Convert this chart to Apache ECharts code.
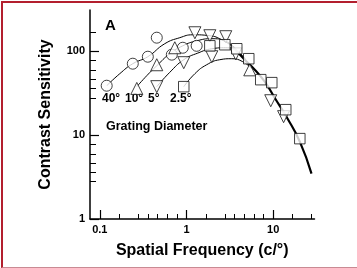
<!DOCTYPE html>
<html>
<head>
<meta charset="utf-8">
<script src="https://cdn.jsdelivr.net/npm/echarts@6/dist/echarts.min.js"></script>
<style>
  html, body { margin: 0; padding: 0; background: #fff; }
  #frame { position: absolute; left: 0; top: 0; width: 357px; height: 268px; overflow: hidden; }
  #edge { position: absolute; left: 1px; top: 1px; width: 380px; height: 264px;
    border-top: 2px solid #b31f2e; border-left: 2px solid #b31f2e; border-bottom: 1px solid #c98a93; }
  #chart { position: absolute; left: 0; top: 0; width: 357px; height: 268px; }
</style>
</head>
<body>
<div id="frame">
  <div id="edge"></div>
  <div id="chart"></div>
</div>
<script>
// measured points, [spatial frequency c/deg, contrast sensitivity]
const circle40 = [[0.120, 38.8], [0.240, 71], [0.358, 86], [0.454, 145], [0.677, 91], [0.906, 110], [1.31, 116]];
const triUp10 = [[0.267, 36], [0.454, 69], [0.733, 110], [5.37, 60]];
const triDown5 = [[0.454, 37.8], [0.93, 73], [1.25, 166], [1.86, 153], [2.84, 149], [1.96, 86], [3.70, 93], [9.38, 25.7], [13.2, 16.6]];
const square25 = [[0.93, 37.8], [1.86, 116], [2.77, 119.5], [3.80, 107], [5.23, 81.4], [7.19, 45.8], [9.64, 42.2], [13.97, 20.1], [20.3, 9.08]];

// fitted curves
const fit40 = [[0.120, 38.8], [0.170, 54], [0.240, 71], [0.358, 86], [0.562, 123], [0.837, 145], [1.18, 157], [1.86, 153], [2.55, 137], [3.42, 113]];
const fit10 = [[0.267, 37.8], [0.348, 51.1], [0.454, 67.1], [0.641, 93.4], [0.906, 116], [1.31, 133], [1.96, 141], [2.77, 133], [3.91, 98.6]];
const fit5 = [[0.454, 37.8], [0.641, 56], [0.93, 79.2], [1.35, 95], [1.96, 107], [2.84, 110], [3.91, 98.6], [4.83, 79.2]];
const fit25 = [[0.93, 37.8], [1.25, 54], [1.71, 69], [2.42, 79.2], [3.33, 81.4], [4.46, 75], [5.66, 61.9]];
const fitHigh = [[3.42, 113], [4.70, 79.2], [6.13, 60.2], [8.0, 43.3], [10.4, 27.9], [14.4, 16.2], [20.3, 8.37], [27.7, 3.48]];

const xMin = 0.077, xMax = 30;
const yMin = 1, yMax = 310;
const sizeLabels = ['40°', '10°', '5°', '2.5°'];

// minor tick spots as drawn in the figure (log10 units)
const xMinor = [-1, 0].reduce((a, d) => a.concat([2, 4, 5, 6, 7, 8].map(k => d + k / 9)), []).concat([1 + 2 / 9, 1 + 4 / 9]);
const yMinor = [0, 1].reduce((a, d) => a.concat([1, 2, 3, 4, 5].map(k => d + 1 - k / 9)), []).concat([2 + 2 / 9]);

const font = '"Liberation Sans", Arial, Helvetica, sans-serif';
const chart = echarts.init(document.getElementById('chart'), null, { renderer: 'canvas' });

const lineSeries = (data, w) => ({
  type: 'line', data: data, smooth: 0.5, symbol: 'none', z: 2,
  lineStyle: { color: '#000', width: w }
});
const markSeries = (data, symbol, size, rot) => ({
  type: 'scatter', data: data, symbol: symbol, symbolSize: size, symbolRotate: rot || 0, z: 5,
  itemStyle: { color: '#fff', borderColor: '#111', borderWidth: 1 }
});
const note = (text, left, top, size) => ({
  type: 'text', left: left, top: top, style: { text: text, font: 'bold ' + size + 'px ' + font, fill: '#000' }
});

const option = {
  animation: false,
  grid: { left: 90, right: 42.5, top: 10, bottom: 49 },
  xAxis: [{
    type: 'log', min: xMin, max: xMax, logBase: 10,
    name: 'Spatial Frequency (c/°)', nameLocation: 'middle', nameGap: 24,
    nameTextStyle: { fontFamily: font, fontWeight: 'bold', fontSize: 16, color: '#000' },
    axisLine: { onZero: false, lineStyle: { color: '#000', width: 1.5 } },
    axisTick: { inside: true, length: 9, lineStyle: { color: '#000', width: 1.2 } },
    axisLabel: { showMinLabel: false, showMaxLabel: false, margin: 5, color: '#000',
      fontFamily: font, fontWeight: 'bold', fontSize: 11 },
    splitLine: { show: false }
  }, {
    type: 'value', min: Math.log10(xMin), max: Math.log10(xMax), position: 'bottom',
    axisLine: { show: false, onZero: false }, axisLabel: { show: false }, splitLine: { show: false },
    axisTick: { inside: true, length: 5, customValues: xMinor, lineStyle: { color: '#000', width: 1 } }
  }],
  yAxis: [{
    type: 'log', min: yMin, max: yMax, logBase: 10,
    name: 'Contrast Sensitivity', nameLocation: 'middle', nameGap: 36,
    nameTextStyle: { fontFamily: font, fontWeight: 'bold', fontSize: 16, color: '#000' },
    axisLine: { onZero: false, lineStyle: { color: '#000', width: 1.5 } },
    axisTick: { inside: true, length: 9, lineStyle: { color: '#000', width: 1.2 } },
    axisLabel: { showMaxLabel: false, margin: 5, color: '#000',
      fontFamily: font, fontWeight: 'bold', fontSize: 11 },
    splitLine: { show: false }
  }, {
    type: 'value', min: Math.log10(yMin), max: Math.log10(yMax), position: 'left',
    axisLine: { show: false, onZero: false }, axisLabel: { show: false }, splitLine: { show: false },
    axisTick: { inside: true, length: 6, customValues: yMinor, lineStyle: { color: '#000', width: 1 } }
  }],
  series: [
    lineSeries(fit40, 1),
    lineSeries(fit10, 1),
    lineSeries(fit5, 1),
    lineSeries(fit25, 1),
    lineSeries(fitHigh, 2.2),
    markSeries(circle40, 'circle', 11),
    markSeries(triUp10, 'triangle', 12),
    markSeries(triDown5, 'triangle', 12, 180),
    markSeries(square25, 'rect', 10.5)
  ],
  graphic: [
    note('A', 105, 18, 15),
    note(sizeLabels[0], 102, 93, 12),
    note(sizeLabels[1], 125, 93, 12),
    note(sizeLabels[2], 148, 93, 12),
    note(sizeLabels[3], 170, 93, 12),
    note('Grating Diameter', 106, 120, 12.5)
  ]
};
chart.setOption(option);
</script>
</body>
</html>
